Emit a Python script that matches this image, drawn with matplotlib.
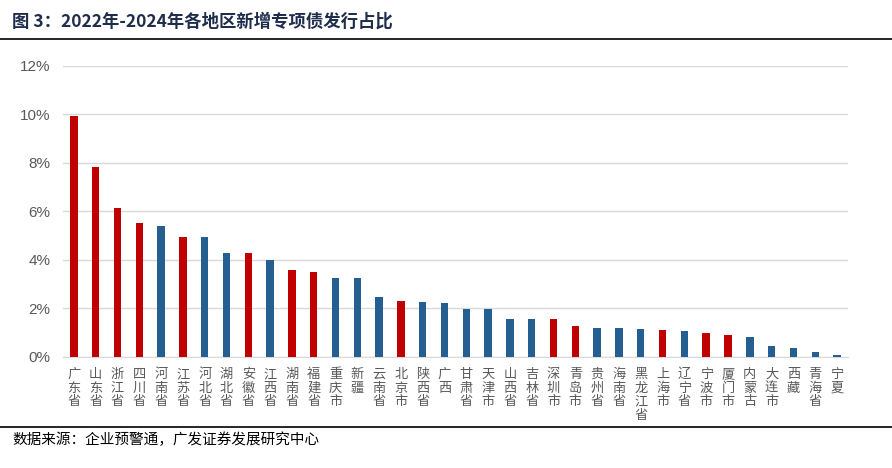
import numpy as np
import matplotlib
matplotlib.use("Agg")
import matplotlib.pyplot as plt
from matplotlib.ticker import PercentFormatter

plt.rcParams['font.family'] = ['Noto Sans CJK SC', 'DejaVu Sans']

regions = ['广东省', '山东省', '浙江省', '四川省', '河南省', '江苏省', '河北省', '湖北省',
           '安徽省', '江西省', '湖南省', '福建省', '重庆市', '新疆', '云南省', '北京市',
           '陕西省', '广西', '甘肃省', '天津市', '山西省', '吉林省', '深圳市', '青岛市',
           '贵州省', '海南省', '黑龙江省', '上海市', '辽宁省', '宁波市', '厦门市', '内蒙古',
           '大连市', '西藏', '青海省', '宁夏']
share = [9.93, 7.83, 6.14, 5.52, 5.40, 4.94, 4.94, 4.30,
         4.30, 4.00, 3.58, 3.49, 3.24, 3.24, 2.46, 2.29,
         2.25, 2.21, 1.97, 1.97, 1.55, 1.55, 1.55, 1.26,
         1.20, 1.20, 1.17, 1.13, 1.09, 0.98, 0.90, 0.82,
         0.45, 0.37, 0.19, 0.10]
highlight = ['广东省', '山东省', '浙江省', '四川省', '江苏省', '安徽省', '湖南省', '福建省',
             '北京市', '深圳市', '青岛市', '上海市', '宁波市', '厦门市']

red = '#C00000'
blue = '#255E91'
grey = '#595959'

fig = plt.figure(figsize=(8.92, 4.68), dpi=100)
ax = fig.add_axes([0.0706, 0.2372, 0.88, 0.6224])

x = np.arange(len(regions))
colors = [red if r in highlight else blue for r in regions]
ax.bar(x, share, width=0.34, color=colors, zorder=3)

ax.set_ylim(0, 12)
ax.set_xlim(-0.5, len(regions) - 0.5)
ax.set_yticks(np.arange(0, 13, 2))
ax.yaxis.set_major_formatter(PercentFormatter(decimals=0))
ax.grid(axis='y', color='#D9D9D9', linewidth=1, zorder=0)
for s in ['top', 'right', 'left']:
    ax.spines[s].set_visible(False)
ax.spines['bottom'].set_color('#D9D9D9')
ax.tick_params(axis='both', length=0, colors=grey)
ax.tick_params(axis='y', pad=9)
for lab in ax.get_yticklabels():
    lab.set_fontfamily('Liberation Sans')
    lab.set_fontsize(11)

ax.set_xticks(x)
ax.set_xticklabels(['\n'.join(r) for r in regions], fontsize=9.5, color=grey,
                   linespacing=1.05, va='top')
ax.tick_params(axis='x', pad=8)

# title and source
fig.text(12 / 892, 1 - 22 / 468, '图 3：2022年-2024年各地区新增专项债发行占比', fontsize=12.5,
         fontweight='bold', color='#1F2D4D', va='center', ha='left')
fig.add_artist(plt.Line2D([0, 1], [1 - 38.5 / 468] * 2, color='black', linewidth=1.2))
fig.add_artist(plt.Line2D([0, 1], [1 - 426.5 / 468] * 2, color='black', linewidth=1.2))
fig.text(12 / 892, 1 - 440 / 468, '数据来源：企业预警通，广发证券发展研究中心', fontsize=10.5,
         color='black', va='center', ha='left')

fig.savefig('out.png', dpi=100)
